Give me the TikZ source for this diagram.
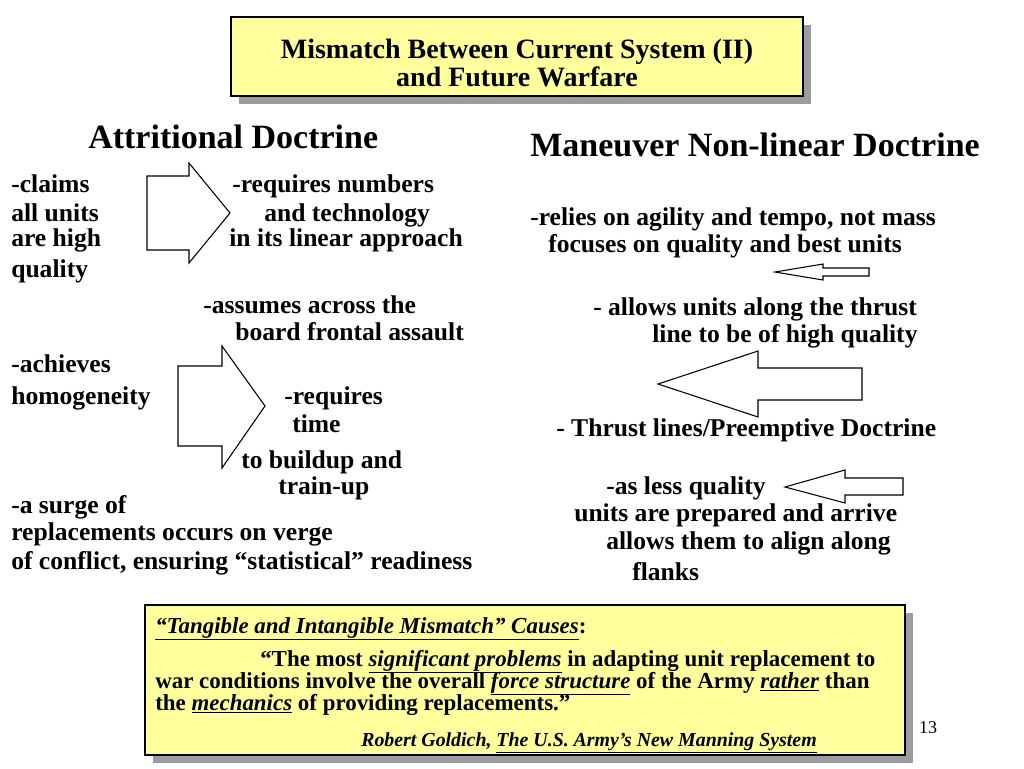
\documentclass[tikz,border=0pt]{standalone}
\usepackage{fontspec}
\setmainfont{Liberation Serif}
\usetikzlibrary{shadows}
\definecolor{paleyellow}{HTML}{FFFF9E}
\definecolor{shadowgray}{HTML}{9C9C9C}
\tikzset{
  panel/.style={draw=black, line width=1pt, fill=paleyellow, inner sep=0pt,
    drop shadow={shadow xshift=6pt, shadow yshift=-6pt, fill=shadowgray, opacity=1}},
  titletext/.style={align=center, inner sep=0pt, font=\fontsize{21}{20.5}\selectfont\bfseries},
  heading/.style={anchor=base west, inner sep=0pt, font=\fontsize{25.5}{30}\selectfont\bfseries},
  txt/.style={anchor=base west, inner sep=0pt, font=\fontsize{19.2}{22}\selectfont\bfseries},
  quote/.style={anchor=base west, inner sep=0pt, font=\fontsize{17.2}{18}\selectfont\bfseries},
  source/.style={anchor=base west, inner sep=0pt, font=\fontsize{14.9}{18}\selectfont\bfseries},
  pagenum/.style={anchor=base, inner sep=0pt, font=\fontsize{13.5}{16}\selectfont},
  blockarrow/.style={draw=black, line width=0.8pt, fill=white, line join=miter}
}

\begin{document}
\begin{tikzpicture}[x=0.75pt, y=-0.75pt]
\useasboundingbox (0,0) rectangle (1024,768);
\node[panel, minimum width=429pt, minimum height=59.25pt] (titlebox) at (517,56.5) {};
\node[titletext] (title) at (517,63) {Mismatch Between Current System (II)\\and Future Warfare};

\node[heading] (attr) at (88,148) {Attritional Doctrine};
\node[heading] (manv) at (530,156) {Maneuver Non-linear Doctrine};

\node[txt] (claims) at (11,192) {-claims};
\node[txt] (units) at (11,221) {all units};
\node[txt] (high) at (11,246) {are high};
\node[txt] (qual) at (11,277) {quality};
\draw[blockarrow] (147,176) -- (189,176) -- (189,163) -- (230,213) -- (189,263) -- (189,250) -- (147,250) -- cycle;
\node[txt] (numbers) at (232,192) {-requires numbers};
\node[txt] (tech) at (264,221) {and technology};
\node[txt] (linear) at (229,246) {in its linear approach};
\node[txt] (assumes) at (203,313) {-assumes across the};
\node[txt] (board) at (235,340) {board frontal assault};

\node[txt] (achieves) at (11,372) {-achieves};
\node[txt] (homog) at (11,404) {homogeneity};
\draw[blockarrow] (178,366) -- (222,366) -- (222,346) -- (265,406) -- (222,468) -- (222,446) -- (178,446) -- cycle;
\node[txt] (reqtime) at (284,404) {-requires};
\node[txt] (time) at (292,432) {time};
\node[txt] (buildup) at (241,468) {to buildup and};
\node[txt] (trainup) at (278,494) {train-up};

\node[txt] (surge) at (11,513) {-a surge of};
\node[txt] (verge) at (11,540) {replacements occurs on verge};
\node[txt] (ready) at (11,569) {of conflict, ensuring “statistical” readiness};

\node[txt] (relies) at (530,225) {-relies on agility and tempo, not mass};
\node[txt] (focus) at (548,252) {focuses on quality and best units};
\draw[blockarrow] (775,272) -- (823,264) -- (823,268) -- (869,268) -- (869,276) -- (823,276) -- (823,280) -- cycle;
\node[txt] (allows) at (593,315) {- allows units along the thrust};
\node[txt] (thrust) at (652,342) {line to be of high quality};
\draw[blockarrow] (658,384) -- (758,351) -- (758,368) -- (862,368) -- (862,400) -- (758,400) -- (758,417) -- cycle;
\node[txt] (preempt) at (556,436) {- Thrust lines/Preemptive Doctrine};
\node[txt] (less) at (606,494) {-as less quality};
\draw[blockarrow] (785,487) -- (845,470) -- (845,478) -- (903,478) -- (903,495) -- (845,495) -- (845,503) -- cycle;
\node[txt] (prepared) at (574,521) {units are prepared and arrive};
\node[txt] (align) at (606,549) {allows them to align along};
\node[txt] (flanks) at (632,580) {flanks};

\node[panel, minimum width=570pt, minimum height=112.5pt] (causebox) at (525,680) {};
\node[quote] (causes) at (155,633) {\underline{\textit{“Tangible and Intangible Mismatch” Causes}}:};
\node[quote] (q1) at (260,666) {“The most \underline{\textit{significant problems}} in adapting unit replacement to};
\node[quote] (q2) at (155,688) {war conditions involve the overall \underline{\textit{force structure}} of the Army \underline{\textit{rather}} than};
\node[quote] (q3) at (155,710) {the \underline{\textit{mechanics}} of providing replacements.”};
\node[source] (author) at (361,746) {\textit{Robert Goldich, \underline{The U.S. Army’s New Manning System}}};

\node[pagenum] (page) at (928,733) {13};
\end{tikzpicture}
\end{document}
